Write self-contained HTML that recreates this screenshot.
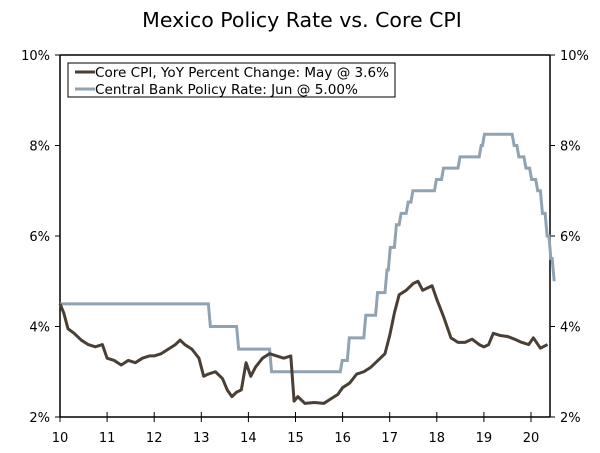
<!DOCTYPE html>
<html><head><meta charset="utf-8"><style>
body{margin:0;background:#fff;}
svg text{font-family:"DejaVu Sans","Liberation Sans",sans-serif;fill:#000;}
</style></head><body>
<svg id="chart" width="600" height="448" xmlns="http://www.w3.org/2000/svg">
<text x="302" y="27" text-anchor="middle" font-size="20.5">Mexico Policy Rate vs. Core CPI</text>
<g id="axes"></g>
<g id="series"></g>
<g>
<rect x="68" y="63" width="327" height="34" fill="#fff" stroke="#000" stroke-width="1"/>
<line x1="75" y1="72" x2="95" y2="72" stroke="#4a3f35" stroke-width="3"/>
<text x="95" y="77" font-size="13" textLength="294" lengthAdjust="spacingAndGlyphs">Core CPI, YoY Percent Change: May @ 3.6%</text>
<line x1="75" y1="89" x2="95" y2="89" stroke="#8fa3b1" stroke-width="3"/>
<text x="95" y="94" font-size="13" textLength="263" lengthAdjust="spacingAndGlyphs">Central Bank Policy Rate: Jun @ 5.00%</text>
</g>
</svg>
<script>
const yTicks=[2,4,6,8,10];
const xTicks=[10,11,12,13,14,15,16,17,18,19,20];
const policyDates=[10,13.15,13.75,14.45,15.95,16.1,16.45,16.7,16.9,16.97,17.1,17.2,17.35,17.45,17.95,18.1,18.45,18.9,18.97,19.6,19.7,19.85,19.97,20.1,20.2,20.3,20.38,20.45];
const policyValues=[4.5,4.0,3.5,3.0,3.25,3.75,4.25,4.75,5.25,5.75,6.25,6.5,6.75,7.0,7.25,7.5,7.75,8.0,8.25,8.0,7.75,7.5,7.25,7.0,6.5,6.0,5.5,5.0];
const cpiDates=[10,10.08,10.17,10.3,10.45,10.6,10.75,10.9,11.0,11.15,11.3,11.45,11.6,11.75,11.9,12.0,12.15,12.3,12.45,12.55,12.65,12.8,12.95,13.05,13.15,13.3,13.45,13.55,13.65,13.75,13.85,13.95,14.05,14.15,14.3,14.45,14.6,14.75,14.9,14.97,15.05,15.2,15.4,15.6,15.75,15.9,16.0,16.15,16.3,16.45,16.6,16.75,16.9,17.0,17.1,17.2,17.35,17.5,17.6,17.7,17.8,17.9,18.0,18.15,18.3,18.45,18.6,18.75,18.9,19.0,19.1,19.2,19.35,19.5,19.65,19.8,19.95,20.05,20.2,20.35];
const cpiValues=[4.5,4.3,3.95,3.85,3.7,3.6,3.55,3.6,3.3,3.25,3.15,3.25,3.2,3.3,3.35,3.35,3.4,3.5,3.6,3.7,3.6,3.5,3.3,2.9,2.95,3.0,2.85,2.6,2.45,2.55,2.6,3.2,2.9,3.1,3.3,3.4,3.35,3.3,3.35,2.35,2.45,2.3,2.32,2.3,2.4,2.5,2.65,2.75,2.95,3.0,3.1,3.25,3.4,3.8,4.3,4.7,4.8,4.95,5.0,4.8,4.85,4.9,4.6,4.2,3.75,3.65,3.65,3.72,3.6,3.55,3.6,3.85,3.8,3.78,3.72,3.65,3.6,3.75,3.52,3.6];
const L=60,R=550,T=55,B=417;
const x=v=>L+(v-10)*(531-60)/10;
const y=v=>B-(v-2)*(B-T)/8;
const NS="http://www.w3.org/2000/svg";
const ax=document.getElementById('axes');
function mk(tag,attrs,parent){const e=document.createElementNS(NS,tag);for(const k in attrs)e.setAttribute(k,attrs[k]);parent.appendChild(e);return e;}
let e=mk('line',{x1:L,y1:T,x2:L,y2:B,stroke:'#000','stroke-width':1.5},ax);


e=mk('line',{x1:R,y1:T,x2:R,y2:B,stroke:'#000','stroke-width':1.5},ax);


e=mk('line',{x1:L,y1:T,x2:R,y2:T,stroke:'#000','stroke-width':1.5},ax);


e=mk('line',{x1:L,y1:B,x2:R,y2:B,stroke:'#000','stroke-width':1.5},ax);


yTicks.forEach(v=>{
 mk('line',{x1:L-5,y1:y(v),x2:L,y2:y(v),stroke:'#000'},ax);
 mk('line',{x1:R,y1:y(v),x2:R+5,y2:y(v),stroke:'#000'},ax);
 let t=mk('text',{x:L-10,y:y(v)+5,'text-anchor':'end','font-size':13},ax);t.textContent=v+'%';
 
 
 t=mk('text',{x:R+10,y:y(v)+5,'text-anchor':'start','font-size':13},ax);t.textContent=v+'%';
 
 
});
xTicks.forEach(v=>{
 mk('line',{x1:x(v),y1:B-5,x2:x(v),y2:B+5,stroke:'#000'},ax);
 const t=mk('text',{x:x(v),y:B+25,'text-anchor':'middle','font-size':13},ax);t.textContent=v;
 
 
});
const s=document.getElementById('series');
let d='';
policyDates.forEach((t,i)=>{
 if(i===0)d+='M'+x(t)+','+y(policyValues[i]);
 else d+=' L'+x(t)+','+y(policyValues[i-1])+' L'+(x(t)+2)+','+y(policyValues[i]);
});
e=mk('path',{d:d,fill:'none',stroke:'#8fa3b3','stroke-width':3},s);


d=cpiDates.map((t,i)=>(i?'L':'M')+x(t)+','+y(cpiValues[i])).join(' ');
e=mk('path',{d:d,fill:'none',stroke:'#4a3f35','stroke-width':3,'stroke-linejoin':'round'},s);


</script>
</body></html>
